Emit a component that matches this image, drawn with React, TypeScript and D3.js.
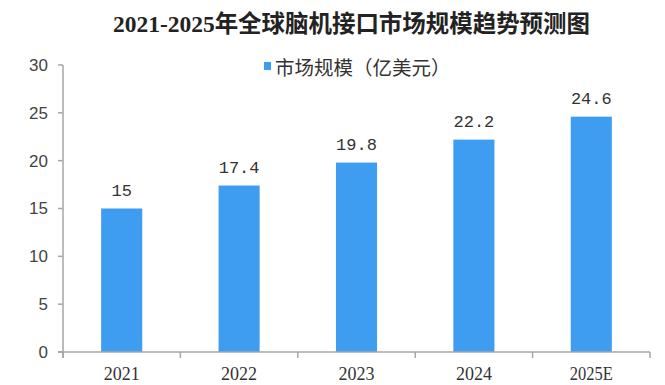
import React from "react";
import * as d3 from "d3";

const categories = ["2021", "2022", "2023", "2024", "2025E"];
const values = [15, 17.4, 19.8, 22.2, 24.6];
const valueLabels = ["15", "17.4", "19.8", "22.2", "24.6"];
const yTicks = [0, 5, 10, 15, 20, 25, 30];
const title = "2021-2025年全球脑机接口市场规模趋势预测图";
const seriesName = "市场规模（亿美元）";

const W = 665;
const H = 385;
const left = 63;
const right = 650;
const top = 65;
const bottom = 352;
const barColor = "#3E9CF1";
const axisColor = "#A6A6A6";

export default function App() {
  const x = d3
    .scaleBand<string>()
    .domain(categories)
    .range([left, right])
    .paddingInner(0.65)
    .paddingOuter(0.325);
  const y = d3.scaleLinear().domain([0, 30]).range([bottom, top]);
  const step = x.step();
  const boundaries = d3.range(categories.length + 1).map((i) => left + i * step);

  return (
    <svg
      width={W}
      height={H}
      style={{ position: "absolute", left: 0, top: 0, background: "#fff" }}
    >
      <text
        x={113}
        y={32}
        fontFamily="'Liberation Serif', 'Noto Sans CJK SC', serif"
        fontWeight="bold"
        fontSize={24}
        fill="#222"
        textLength={477}
        lengthAdjust="spacingAndGlyphs"
      >
        {title}
      </text>

      {/* legend */}
      <rect x={264} y={62} width={7} height={8} fill={barColor} />
      <text
        x={275}
        y={75}
        fontFamily="'Noto Sans CJK SC', sans-serif"
        fontSize={19.5}
        fill="#333"
      >
        {seriesName}
      </text>

      {/* bars */}
      {categories.map((c, i) => (
        <rect
          key={c}
          x={x(c)!}
          y={y(values[i])}
          width={x.bandwidth()}
          height={bottom - y(values[i])}
          fill={barColor}
        />
      ))}

      {/* value labels */}
      {categories.map((c, i) => (
        <text
          key={"v" + c}
          x={x(c)! + x.bandwidth() / 2}
          y={y(values[i]) - 13}
          textAnchor="middle"
          fontFamily="'Liberation Mono', monospace"
          fontSize={17}
          fill="#333"
        >
          {valueLabels[i]}
        </text>
      ))}

      {/* y axis */}
      <line x1={left} x2={left} y1={top} y2={bottom + 6} stroke={axisColor} strokeWidth={1.5} />
      {yTicks.map((t) => (
        <g key={"y" + t}>
          <line x1={left - 5} x2={left} y1={y(t)} y2={y(t)} stroke={axisColor} strokeWidth={1.5} />
          <text
            x={48}
            y={y(t)}
            dy="0.35em"
            textAnchor="end"
            fontFamily="'Liberation Sans', Arial, sans-serif"
            fontSize={17}
            fill="#444"
          >
            {t}
          </text>
        </g>
      ))}

      {/* x axis */}
      <line x1={left - 5} x2={right} y1={bottom} y2={bottom} stroke={axisColor} strokeWidth={1.5} />
      {boundaries.map((b, i) => (
        <line key={"xt" + i} x1={b} x2={b} y1={bottom} y2={bottom + 6} stroke={axisColor} strokeWidth={1.5} />
      ))}
      {categories.map((c) => (
        <text
          key={"x" + c}
          x={x(c)! + x.bandwidth() / 2}
          y={380}
          textAnchor="middle"
          fontFamily="'Liberation Serif', serif"
          fontSize={18}
          fill="#333"
          textLength={c.length > 4 ? 43 : undefined}
          lengthAdjust="spacingAndGlyphs"
        >
          {c}
        </text>
      ))}
    </svg>
  );
}
